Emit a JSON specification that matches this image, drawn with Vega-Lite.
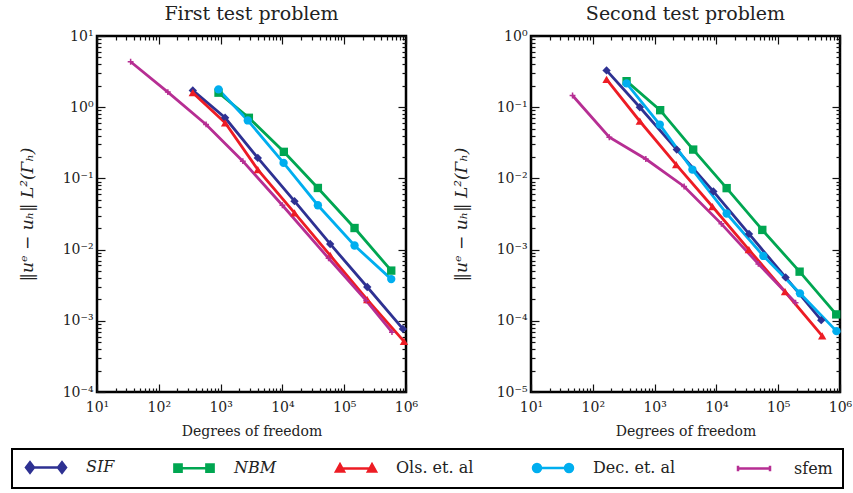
{
  "$schema": "https://vega.github.io/schema/vega-lite/v6.json",
  "padding": {"left": 11, "top": 3, "right": 5, "bottom": 5},
  "background": "white",
  "bounds": "flush",
  "spacing": 125,
  "config": {
    "font": "DejaVu Serif",
    "view": {"stroke": "black", "strokeWidth": 2.5},
    "axis": {"domain": false, "grid": false, "labelFont": "DejaVu Serif", "labelFontSize": 14, "labelColor": "#222", "tickColor": "#111", "tickWidth": 1.2, "titleFont": "DejaVu Serif", "titleFontWeight": "normal", "titleFontSize": 14, "titleColor": "#222", "labelOverlap": false, "labelFlush": false},
    "title": {"font": "DejaVu Serif", "fontSize": 19, "fontWeight": "normal", "color": "#222"}
  },
  "datasets": {
    "d": [
      {"panel": "First", "series": "SIF", "dof": 355, "err": 1.72},
      {"panel": "First", "series": "SIF", "dof": 1183, "err": 0.71},
      {"panel": "First", "series": "SIF", "dof": 4000, "err": 0.194},
      {"panel": "First", "series": "SIF", "dof": 15700, "err": 0.0479},
      {"panel": "First", "series": "SIF", "dof": 59300, "err": 0.012},
      {"panel": "First", "series": "SIF", "dof": 236000, "err": 0.00298},
      {"panel": "First", "series": "SIF", "dof": 891000, "err": 0.00077},
      {"panel": "First", "series": "NBM", "dof": 925, "err": 1.6},
      {"panel": "First", "series": "NBM", "dof": 2866, "err": 0.71},
      {"panel": "First", "series": "NBM", "dof": 10550, "err": 0.236},
      {"panel": "First", "series": "NBM", "dof": 37500, "err": 0.0734},
      {"panel": "First", "series": "NBM", "dof": 147000, "err": 0.0201},
      {"panel": "First", "series": "NBM", "dof": 577000, "err": 0.00507},
      {"panel": "First", "series": "Ols. et. al", "dof": 355, "err": 1.6},
      {"panel": "First", "series": "Ols. et. al", "dof": 1183, "err": 0.604},
      {"panel": "First", "series": "Ols. et. al", "dof": 4000, "err": 0.133},
      {"panel": "First", "series": "Ols. et. al", "dof": 15700, "err": 0.0327},
      {"panel": "First", "series": "Ols. et. al", "dof": 59300, "err": 0.0083},
      {"panel": "First", "series": "Ols. et. al", "dof": 236000, "err": 0.00198},
      {"panel": "First", "series": "Ols. et. al", "dof": 927000, "err": 0.000513},
      {"panel": "First", "series": "Dec. et. al", "dof": 925, "err": 1.78},
      {"panel": "First", "series": "Dec. et. al", "dof": 2755, "err": 0.652},
      {"panel": "First", "series": "Dec. et. al", "dof": 10450, "err": 0.165},
      {"panel": "First", "series": "Dec. et. al", "dof": 37500, "err": 0.042},
      {"panel": "First", "series": "Dec. et. al", "dof": 147000, "err": 0.0114},
      {"panel": "First", "series": "Dec. et. al", "dof": 577000, "err": 0.00385},
      {"panel": "First", "series": "sfem", "dof": 35, "err": 4.35},
      {"panel": "First", "series": "sfem", "dof": 140, "err": 1.63},
      {"panel": "First", "series": "sfem", "dof": 582, "err": 0.573},
      {"panel": "First", "series": "sfem", "dof": 2290, "err": 0.1745},
      {"panel": "First", "series": "sfem", "dof": 10000, "err": 0.042},
      {"panel": "First", "series": "sfem", "dof": 55900, "err": 0.00755},
      {"panel": "First", "series": "sfem", "dof": 227000, "err": 0.00192},
      {"panel": "First", "series": "sfem", "dof": 593000, "err": 0.000693},
      {"panel": "Second", "series": "SIF", "dof": 167, "err": 0.329},
      {"panel": "Second", "series": "SIF", "dof": 577, "err": 0.1},
      {"panel": "Second", "series": "SIF", "dof": 2285, "err": 0.0254},
      {"panel": "Second", "series": "SIF", "dof": 8930, "err": 0.00656},
      {"panel": "Second", "series": "SIF", "dof": 33700, "err": 0.00166},
      {"panel": "Second", "series": "SIF", "dof": 132000, "err": 0.000407},
      {"panel": "Second", "series": "SIF", "dof": 497000, "err": 0.000102},
      {"panel": "Second", "series": "NBM", "dof": 352, "err": 0.232},
      {"panel": "Second", "series": "NBM", "dof": 1230, "err": 0.0908},
      {"panel": "Second", "series": "NBM", "dof": 4210, "err": 0.0254},
      {"panel": "Second", "series": "NBM", "dof": 14650, "err": 0.0073},
      {"panel": "Second", "series": "NBM", "dof": 55300, "err": 0.00189},
      {"panel": "Second", "series": "NBM", "dof": 222000, "err": 0.00049},
      {"panel": "Second", "series": "NBM", "dof": 869000, "err": 0.000123},
      {"panel": "Second", "series": "Ols. et. al", "dof": 167, "err": 0.245},
      {"panel": "Second", "series": "Ols. et. al", "dof": 577, "err": 0.0635},
      {"panel": "Second", "series": "Ols. et. al", "dof": 2233, "err": 0.0156},
      {"panel": "Second", "series": "Ols. et. al", "dof": 8610, "err": 0.00403},
      {"panel": "Second", "series": "Ols. et. al", "dof": 33500, "err": 0.001},
      {"panel": "Second", "series": "Ols. et. al", "dof": 129000, "err": 0.000256},
      {"panel": "Second", "series": "Ols. et. al", "dof": 515000, "err": 0.0000615},
      {"panel": "Second", "series": "Dec. et. al", "dof": 352, "err": 0.216},
      {"panel": "Second", "series": "Dec. et. al", "dof": 1213, "err": 0.057},
      {"panel": "Second", "series": "Dec. et. al", "dof": 4090, "err": 0.0133},
      {"panel": "Second", "series": "Dec. et. al", "dof": 14650, "err": 0.00321},
      {"panel": "Second", "series": "Dec. et. al", "dof": 57500, "err": 0.000815},
      {"panel": "Second", "series": "Dec. et. al", "dof": 225000, "err": 0.000243},
      {"panel": "Second", "series": "Dec. et. al", "dof": 877000, "err": 0.0000716},
      {"panel": "Second", "series": "sfem", "dof": 47, "err": 0.146},
      {"panel": "Second", "series": "sfem", "dof": 185, "err": 0.0378},
      {"panel": "Second", "series": "sfem", "dof": 721, "err": 0.0187},
      {"panel": "Second", "series": "sfem", "dof": 3005, "err": 0.0077},
      {"panel": "Second", "series": "sfem", "dof": 12050, "err": 0.0023},
      {"panel": "Second", "series": "sfem", "dof": 47700, "err": 0.00063},
      {"panel": "Second", "series": "sfem", "dof": 191000, "err": 0.000179}
    ]
  },
  "hconcat": [
    {
      "width": 309, "height": 356,
      "title": {"text": "First test problem", "offset": 5},
      "data": {"name": "d"},
      "transform": [{"filter": "datum.panel == 'First'"}],
      "layer": [
        {
          "mark": {"type": "line", "strokeWidth": 2.8},
          "encoding": {
            "x": {"field": "dof", "type": "quantitative", "scale": {"type": "log", "domain": [10, 1000000], "nice": false},
              "axis": {"orient": "bottom", "title": "Degrees of freedom", "titlePadding": 6, "labelPadding": 16,
                "values": [10,20,30,40,50,60,70,80,90,100,200,300,400,500,600,700,800,900,1000,2000,3000,4000,5000,6000,7000,8000,9000,10000,20000,30000,40000,50000,60000,70000,80000,90000,100000,200000,300000,400000,500000,600000,700000,800000,900000,1000000],
                "labelExpr": "abs(log(datum.value)/LN10 - round(log(datum.value)/LN10)) < 0.001 ? '10' + (round(log(datum.value)/LN10) < 0 ? '⁻' : '') + ['⁰','¹','²','³','⁴','⁵','⁶'][abs(round(log(datum.value)/LN10))] : ''",
                "tickSize": {"condition": {"test": "abs(log(datum.value)/LN10 - round(log(datum.value)/LN10)) < 0.001", "value": -8}, "value": -4}}},
            "y": {"field": "err", "type": "quantitative", "scale": {"type": "log", "domain": [0.0001, 10], "nice": false},
              "axis": {"orient": "left", "title": "‖uᵉ − uₕ‖ L²(Γₕ)", "titleFontSize": 17, "titleFontStyle": "italic", "titlePadding": 26, "labelPadding": 12,
                "values": [0.0001,0.0002,0.0003,0.0004,0.0005,0.0006,0.0007,0.0008,0.0009,0.001,0.002,0.003,0.004,0.005,0.006,0.007,0.008,0.009,0.01,0.02,0.03,0.04,0.05,0.06,0.07,0.08,0.09,0.1,0.2,0.3,0.4,0.5,0.6,0.7,0.8,0.9,1,2,3,4,5,6,7,8,9,10],
                "labelExpr": "abs(log(datum.value)/LN10 - round(log(datum.value)/LN10)) < 0.001 ? '10' + (round(log(datum.value)/LN10) < 0 ? '⁻' : '') + ['⁰','¹','²','³','⁴','⁵','⁶'][abs(round(log(datum.value)/LN10))] : ''",
                "tickSize": {"condition": {"test": "abs(log(datum.value)/LN10 - round(log(datum.value)/LN10)) < 0.001", "value": -8}, "value": -4}}},
            "color": {"field": "series", "type": "nominal",
              "scale": {"domain": ["SIF", "NBM", "Ols. et. al", "Dec. et. al", "sfem"], "range": ["#2e3192", "#00a651", "#ed1c24", "#00aeef", "#b62e93"]},
              "legend": {"orient": "none", "legendX": -85, "legendY": 413, "direction": "horizontal", "title": null,
                "strokeColor": "black", "padding": 10, "columnPadding": 54, "symbolSize": 64, "symbolStrokeWidth": 2.5,
                "labelFont": "DejaVu Serif", "labelFontSize": 16, "labelColor": "#222", "labelOffset": 48, "fillColor": "white",
                "encode": {
                  "symbols": {"update": {
                    "shape": {"signal": "datum.value == 'SIF' ? 'M0,0L8,0M-1,0L0,-1.3L1,0L0,1.3ZM7,0L8,-1.3L9,0L8,1.3Z' : datum.value == 'NBM' ? 'M0,0L8,0M-0.9,-0.9H0.9V0.9H-0.9ZM7.1,-0.9H8.9V0.9H7.1Z' : datum.value == 'Ols. et. al' ? 'M0,0L8,0M-1,0.8L0,-1L1,0.8ZM7,0.8L8,-1L9,0.8Z' : datum.value == 'Dec. et. al' ? 'M0,0L8,0M-1,0A1,1 0 1,0 1,0A1,1 0 1,0 -1,0ZM7,0A1,1 0 1,0 9,0A1,1 0 1,0 7,0Z' : 'M0,0L8,0M0,-0.7V0.7M8,-0.7V0.7'"},
                    "fill": {"scale": "color", "field": "value"},
                    "stroke": {"scale": "color", "field": "value"},
                    "strokeWidth": {"value": 2.5},
                    "opacity": {"value": 1}}},
                  "labels": {"update": {"fontStyle": {"signal": "datum.value == 'SIF' || datum.value == 'NBM' ? 'italic' : 'normal'"}}},
                  "legend": {"update": {"strokeWidth": {"value": 2}}}
                }}}
          }
        },
        {
          "mark": {"type": "point", "filled": true, "opacity": 1, "size": 70},
          "encoding": {
            "x": {"field": "dof", "type": "quantitative", "scale": {"type": "log", "domain": [10, 1000000], "nice": false},
              "axis": {"orient": "top", "title": null, "labels": false,
                "values": [10,20,30,40,50,60,70,80,90,100,200,300,400,500,600,700,800,900,1000,2000,3000,4000,5000,6000,7000,8000,9000,10000,20000,30000,40000,50000,60000,70000,80000,90000,100000,200000,300000,400000,500000,600000,700000,800000,900000,1000000],
                "tickSize": {"condition": {"test": "abs(log(datum.value)/LN10 - round(log(datum.value)/LN10)) < 0.001", "value": -8}, "value": -4}}},
            "y": {"field": "err", "type": "quantitative", "scale": {"type": "log", "domain": [0.0001, 10], "nice": false},
              "axis": {"orient": "right", "title": null, "labels": false,
                "values": [0.0001,0.0002,0.0003,0.0004,0.0005,0.0006,0.0007,0.0008,0.0009,0.001,0.002,0.003,0.004,0.005,0.006,0.007,0.008,0.009,0.01,0.02,0.03,0.04,0.05,0.06,0.07,0.08,0.09,0.1,0.2,0.3,0.4,0.5,0.6,0.7,0.8,0.9,1,2,3,4,5,6,7,8,9,10],
                "tickSize": {"condition": {"test": "abs(log(datum.value)/LN10 - round(log(datum.value)/LN10)) < 0.001", "value": -8}, "value": -4}}},
            "color": {"field": "series", "type": "nominal",
              "scale": {"domain": ["SIF", "NBM", "Ols. et. al", "Dec. et. al", "sfem"], "range": ["#2e3192", "#00a651", "#ed1c24", "#00aeef", "#b62e93"]}},
            "shape": {"field": "series", "type": "nominal",
              "scale": {"domain": ["sfem", "SIF", "NBM", "Ols. et. al", "Dec. et. al"], "range": ["M-0.7,-0.18H0.7V0.18H-0.7ZM-0.18,-0.7H0.18V0.7H-0.18Z", "diamond", "square", "triangle-up", "circle"]}, "legend": null}
          }
        }
      ],
      "resolve": {"axis": {"x": "independent", "y": "independent"}}
    },
    {
      "width": 309, "height": 356,
      "title": {"text": "Second test problem", "offset": 5},
      "data": {"name": "d"},
      "transform": [{"filter": "datum.panel == 'Second'"}],
      "layer": [
        {
          "mark": {"type": "line", "strokeWidth": 2.8},
          "encoding": {
            "x": {"field": "dof", "type": "quantitative", "scale": {"type": "log", "domain": [10, 1000000], "nice": false},
              "axis": {"orient": "bottom", "title": "Degrees of freedom", "titlePadding": 6, "labelPadding": 16,
                "values": [10,20,30,40,50,60,70,80,90,100,200,300,400,500,600,700,800,900,1000,2000,3000,4000,5000,6000,7000,8000,9000,10000,20000,30000,40000,50000,60000,70000,80000,90000,100000,200000,300000,400000,500000,600000,700000,800000,900000,1000000],
                "labelExpr": "abs(log(datum.value)/LN10 - round(log(datum.value)/LN10)) < 0.001 ? '10' + (round(log(datum.value)/LN10) < 0 ? '⁻' : '') + ['⁰','¹','²','³','⁴','⁵','⁶'][abs(round(log(datum.value)/LN10))] : ''",
                "tickSize": {"condition": {"test": "abs(log(datum.value)/LN10 - round(log(datum.value)/LN10)) < 0.001", "value": -8}, "value": -4}}},
            "y": {"field": "err", "type": "quantitative", "scale": {"type": "log", "domain": [0.00001, 1], "nice": false},
              "axis": {"orient": "left", "title": "‖uᵉ − uₕ‖ L²(Γₕ)", "titleFontSize": 17, "titleFontStyle": "italic", "titlePadding": 26, "labelPadding": 12,
                "values": [0.00001,0.00002,0.00003,0.00004,0.00005,0.00006,0.00007,0.00008,0.00009,0.0001,0.0002,0.0003,0.0004,0.0005,0.0006,0.0007,0.0008,0.0009,0.001,0.002,0.003,0.004,0.005,0.006,0.007,0.008,0.009,0.01,0.02,0.03,0.04,0.05,0.06,0.07,0.08,0.09,0.1,0.2,0.3,0.4,0.5,0.6,0.7,0.8,0.9,1],
                "labelExpr": "abs(log(datum.value)/LN10 - round(log(datum.value)/LN10)) < 0.001 ? '10' + (round(log(datum.value)/LN10) < 0 ? '⁻' : '') + ['⁰','¹','²','³','⁴','⁵','⁶'][abs(round(log(datum.value)/LN10))] : ''",
                "tickSize": {"condition": {"test": "abs(log(datum.value)/LN10 - round(log(datum.value)/LN10)) < 0.001", "value": -8}, "value": -4}}},
            "color": {"field": "series", "type": "nominal",
              "scale": {"domain": ["SIF", "NBM", "Ols. et. al", "Dec. et. al", "sfem"], "range": ["#2e3192", "#00a651", "#ed1c24", "#00aeef", "#b62e93"]}}
          }
        },
        {
          "mark": {"type": "point", "filled": true, "opacity": 1, "size": 70},
          "encoding": {
            "x": {"field": "dof", "type": "quantitative", "scale": {"type": "log", "domain": [10, 1000000], "nice": false},
              "axis": {"orient": "top", "title": null, "labels": false,
                "values": [10,20,30,40,50,60,70,80,90,100,200,300,400,500,600,700,800,900,1000,2000,3000,4000,5000,6000,7000,8000,9000,10000,20000,30000,40000,50000,60000,70000,80000,90000,100000,200000,300000,400000,500000,600000,700000,800000,900000,1000000],
                "tickSize": {"condition": {"test": "abs(log(datum.value)/LN10 - round(log(datum.value)/LN10)) < 0.001", "value": -8}, "value": -4}}},
            "y": {"field": "err", "type": "quantitative", "scale": {"type": "log", "domain": [0.00001, 1], "nice": false},
              "axis": {"orient": "right", "title": null, "labels": false,
                "values": [0.00001,0.00002,0.00003,0.00004,0.00005,0.00006,0.00007,0.00008,0.00009,0.0001,0.0002,0.0003,0.0004,0.0005,0.0006,0.0007,0.0008,0.0009,0.001,0.002,0.003,0.004,0.005,0.006,0.007,0.008,0.009,0.01,0.02,0.03,0.04,0.05,0.06,0.07,0.08,0.09,0.1,0.2,0.3,0.4,0.5,0.6,0.7,0.8,0.9,1],
                "tickSize": {"condition": {"test": "abs(log(datum.value)/LN10 - round(log(datum.value)/LN10)) < 0.001", "value": -8}, "value": -4}}},
            "color": {"field": "series", "type": "nominal",
              "scale": {"domain": ["SIF", "NBM", "Ols. et. al", "Dec. et. al", "sfem"], "range": ["#2e3192", "#00a651", "#ed1c24", "#00aeef", "#b62e93"]}},
            "shape": {"field": "series", "type": "nominal",
              "scale": {"domain": ["sfem", "SIF", "NBM", "Ols. et. al", "Dec. et. al"], "range": ["M-0.7,-0.18H0.7V0.18H-0.7ZM-0.18,-0.7H0.18V0.7H-0.18Z", "diamond", "square", "triangle-up", "circle"]}, "legend": null}
          }
        }
      ],
      "resolve": {"axis": {"x": "independent", "y": "independent"}}
    }
  ]
}
